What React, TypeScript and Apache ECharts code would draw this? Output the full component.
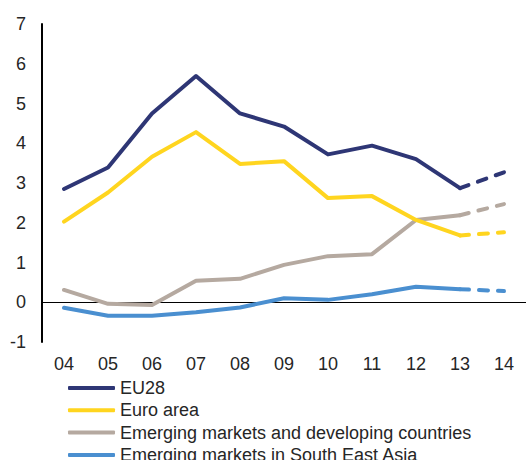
import React, { useEffect, useRef } from "react";
import * as echarts from "echarts";

const categories = ["04", "05", "06", "07", "08", "09", "10", "11", "12", "13", "14"];
const eu28 = [2.85, 3.39, 4.75, 5.69, 4.75, 4.42, 3.72, 3.94, 3.6, 2.87, 3.27];
const euroArea = [2.03, 2.76, 3.66, 4.28, 3.48, 3.55, 2.62, 2.67, 2.07, 1.68, 1.76];
const emerging = [0.31, -0.04, -0.07, 0.54, 0.59, 0.94, 1.16, 1.21, 2.07, 2.19, 2.47];
const seAsia = [-0.14, -0.34, -0.34, -0.25, -0.13, 0.1, 0.06, 0.2, 0.39, 0.33, 0.28];
const forecastFrom = 9; // index of "13": segment 13 -> 14 is a projection

const seriesDefs = [
  { name: "EU28", data: eu28, color: "#2e3675" },
  { name: "Euro area", data: euroArea, color: "#ffd51f" },
  { name: "Emerging markets and developing countries", data: emerging, color: "#b5a9a0" },
  { name: "Emerging markets in South East Asia", data: seAsia, color: "#4a8fd0" },
];

const FONT = "'Liberation Sans', Arial, sans-serif";

export default function App() {
  const ref = useRef<HTMLDivElement>(null);
  useEffect(() => {
    if (!ref.current) return;
    const chart = echarts.init(ref.current, undefined, { renderer: "svg" });
    const series: any[] = [];
    seriesDefs.forEach((s, i) => {
      series.push({
        name: s.name,
        type: "line",
        data: s.data.map((v, k) => (k <= forecastFrom ? v : null)),
        showSymbol: false,
        symbol: "none",
        z: 10 - i,
        lineStyle: { color: s.color, width: 4, cap: "round", join: "round" },
        itemStyle: { color: s.color },
        markLine:
          i === 0
            ? {
                silent: true,
                symbol: "none",
                label: { show: false },
                lineStyle: { color: "#000", width: 1, type: "solid" },
                data: [{ yAxis: 0 }],
                z: 1,
              }
            : undefined,
      });
      series.push({
        name: s.name + " (f)",
        type: "line",
        data: s.data.map((v, k) => (k >= forecastFrom ? v : null)),
        showSymbol: false,
        symbol: "none",
        z: 10 - i,
        lineStyle: { color: s.color, width: 4, cap: "round", type: [9, 10] },
        itemStyle: { color: s.color },
      });
    });
    chart.setOption({
      animation: false,
      grid: { left: 42, right: 0, top: 24, bottom: 118, containLabel: false },
      xAxis: {
        type: "category",
        data: categories,
        boundaryGap: true,
        axisLine: { show: false },
        axisTick: { show: false },
        axisLabel: { fontSize: 18, color: "#262626", fontFamily: FONT, margin: 13 },
      },
      yAxis: {
        type: "value",
        min: -1,
        max: 7,
        interval: 1,
        splitLine: { show: false },
        axisTick: { show: false },
        axisLine: { show: true, lineStyle: { color: "#000", width: 2 } },
        axisLabel: { fontSize: 18, color: "#262626", fontFamily: FONT, margin: 16 },
      },
      legend: {
        orient: "vertical",
        left: 63,
        top: 374,
        height: 140,
        itemWidth: 47,
        itemHeight: 4,
        itemGap: 4.3,
        icon: "roundRect",
        data: seriesDefs.map((s) => s.name),
        textStyle: { fontSize: 18, lineHeight: 17, color: "#262626", fontFamily: FONT },
      },
      series,
    });
    return () => chart.dispose();
  }, []);
  return <div ref={ref} style={{ width: 526, height: 460, position: "absolute", left: 0, top: 0 }} />;
}
